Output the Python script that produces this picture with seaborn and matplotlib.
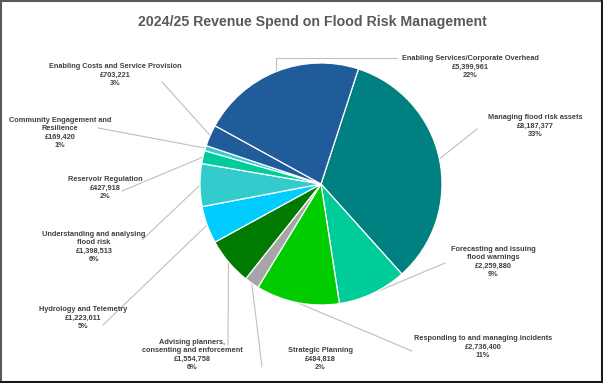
import numpy as np
import matplotlib
matplotlib.use('Agg')
import matplotlib.pyplot as plt
import seaborn as sns
from matplotlib.lines import Line2D

# clockwise from the top
categories = [
    'Managing flood risk assets',
    'Forecasting and issuing\nflood warnings',
    'Responding to and managing incidents',
    'Strategic Planning',
    'Advising planners,\nconsenting and enforcement',
    'Hydrology and Telemetry',
    'Understanding and analysing\nflood risk',
    'Reservoir Regulation',
    'Community Engagement and\nResilience',
    'Enabling Costs and Service Provision',
    'Enabling Services/Corporate Overhead',
]
spend = [8187377, 2259880, 2736400, 484818, 1554758, 1223011,
         1398513, 427918, 169420, 703221, 5399961]
colours = ['#008080', '#00CC99', '#00CC00', '#A6A6A6', '#007A00', '#00CCFF',
           '#33CCCC', '#00CC99', '#3ACBCF', '#1F5C99', '#1F5C99']

# label text centres and leader-line start (pixels, y down)
label_xy = [(535, 126), (493, 262), (483, 347), (320, 359), (192, 355),
            (83, 318), (94, 247), (105, 188), (60, 133), (115, 75), (470, 67)]
line_start = [(477, 129), (445, 263), (412, 351), (262, 367), (228, 345),
              (103, 325), (142, 240), (122, 191), (98, 128), (162, 82), (397, 58)]
elbow = [False] * 10 + [True]

W, H = 603, 383
CX, CY, R = 321, 184, 121
TXT = '#404040'

sns.set_style('white')
plt.rcParams['font.family'] = ['Liberation Sans', 'DejaVu Sans']

fig = plt.figure(figsize=(W / 100, H / 100), dpi=100)
ax = fig.add_axes([0, 0, 1, 1])

total = sum(spend)
wedges, _ = ax.pie(spend, colors=colours, startangle=-72, counterclock=True,
                   center=(CX, CY), radius=R,
                   wedgeprops=dict(edgecolor='white', linewidth=0.9))
ax.set_xlim(0, W)
ax.set_ylim(H, 0)
ax.axis('off')

for w, name, val, (tx, ty), (lx, ly), el in zip(wedges, categories, spend,
                                                 label_xy, line_start, elbow):
    th = np.deg2rad((w.theta1 + w.theta2) / 2)
    ax_, ay_ = CX + R * np.cos(th), CY + R * np.sin(th)
    if el:
        xs, ys = [lx, ax_, ax_], [ly, ly, ay_]
    else:
        xs, ys = [lx, ax_], [ly, ay_]
    ax.plot(xs, ys, color='#BFBFBF', lw=0.8, zorder=0)
    pct = round(val / total * 100)
    ax.text(tx, ty, f'{name}\n£{val:,}\n{pct}%', ha='center', va='center',
            fontsize=5.3, fontweight='bold', color=TXT, linespacing=1.3)

fig.text(312 / W, 1 - 22 / H, '2024/25 Revenue Spend on Flood Risk Management',
         ha='center', va='center', fontsize=10.2, fontweight='bold',
         color='#595959')

# frame round the picture
fig.add_artist(Line2D([1 / W, 1 / W], [0, 1], color='#595959', lw=1.5,
                      transform=fig.transFigure))
fig.add_artist(Line2D([0, 1], [1 - 1 / H, 1 - 1 / H], color='#595959', lw=1.5,
                      transform=fig.transFigure))
fig.add_artist(Line2D([1 - 1.5 / W, 1 - 1.5 / W], [0, 1], color='#1A1A1A', lw=2.2,
                      transform=fig.transFigure))
fig.add_artist(Line2D([0, 1], [1.5 / H, 1.5 / H], color='#1A1A1A', lw=2.2,
                      transform=fig.transFigure))

fig.savefig('out.png', dpi=100)
